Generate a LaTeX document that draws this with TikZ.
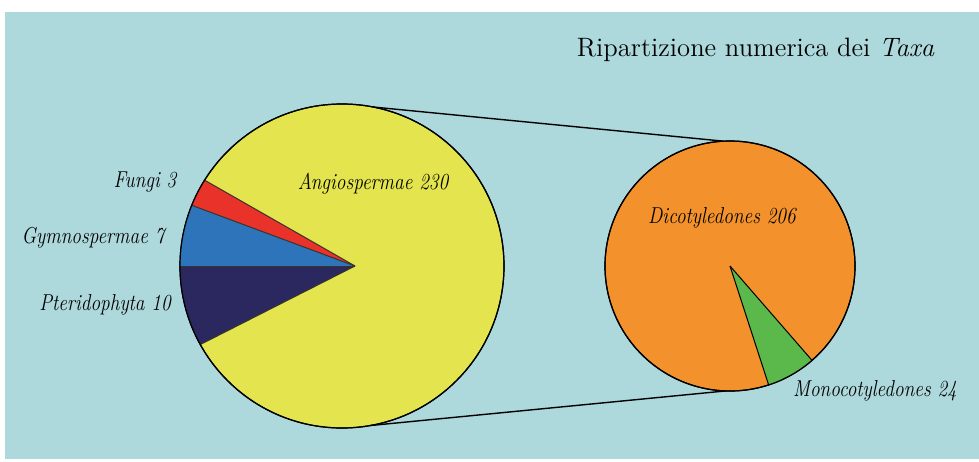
\documentclass[tikz,border=0pt]{standalone}
\usetikzlibrary{calc}
\newcommand{\etich}[1]{\scalebox{0.84}[1]{\itshape #1}}
\begin{document}
\begin{tikzpicture}[x=0.5pt,y=-0.5pt]
\definecolor{sfondo}{RGB}{173,216,220}
\definecolor{giallo}{RGB}{227,228,78}
\definecolor{rosso}{RGB}{232,50,42}
\definecolor{azzurro}{RGB}{46,116,186}
\definecolor{blunotte}{RGB}{43,40,96}
\definecolor{arancio}{RGB}{243,146,44}
\definecolor{verde}{RGB}{91,184,74}
\tikzstyle{pie}=[circle, draw=black, line width=0.6pt, inner sep=0pt, outer sep=0pt]
\tikzstyle{edge}=[draw=black!80!olive, line width=0.5pt]
\tikzstyle{link}=[draw=black, line width=0.7pt]
\tikzstyle{lbl}=[font=\fontsize{11.5}{13}\selectfont, inner sep=0pt]

\useasboundingbox (0,0) rectangle (979,461);
\fill[white] (0,0) rectangle (979,461);
\fill[sfondo] (5,12) rectangle (979,459);

\node[pie, fill=giallo, minimum size=162pt] (angio) at (342,266) {};
\node[pie, fill=arancio, minimum size=125pt] (dico) at (730,266) {};
\coordinate (apexA) at (355,266);

\begin{scope}
\clip (angio.center) circle[radius=81pt];
\fill[rosso] (apexA) -- ($(apexA)!1.4!(angio.148)$) -- ($(apexA)!1.4!(angio.158)$) -- cycle;
\fill[azzurro] (apexA) -- ($(apexA)!1.4!(angio.158)$) -- ($(apexA)!1.4!(angio.180)$) -- cycle;
\fill[blunotte] (apexA) -- ($(apexA)!1.4!(angio.180)$) -- ($(apexA)!1.4!(angio.209)$) -- cycle;
\end{scope}
\draw[edge] (apexA) -- (angio.148);
\draw[edge] (apexA) -- (angio.158);
\draw[edge] (apexA) -- (angio.180);
\draw[edge] (apexA) -- (angio.209);
\draw[pie] (angio.center) circle[radius=81pt];

\begin{scope}
\clip (dico.center) circle[radius=62.5pt];
\fill[verde] (dico.center) -- ($(dico.center)!1.4!(dico.-72.6)$) -- ($(dico.center)!1.4!(dico.-49)$) -- cycle;
\end{scope}
\draw[edge, draw=black] (dico.center) -- (dico.-72.6);
\draw[edge, draw=black] (dico.center) -- (dico.-49);
\draw[pie] (dico.center) circle[radius=62.5pt];

\draw[link] (angio.79) -- (dico.93);
\draw[link] (angio.-80) -- (dico.-92);

\node[font=\fontsize{13.3}{16}\selectfont, inner sep=0pt, anchor=base east] (titolo) at (935,56) {Ripartizione numerica dei \textit{Taxa}};
\node[lbl] (fungi) at (145,182) {\etich{Fungi 3}};
\node[lbl] (gymno) at (93,238) {\etich{Gymnospermae 7}};
\node[lbl] (pteri) at (105,305) {\etich{Pteridophyta 10}};
\node[lbl] (angiol) at (373,184) {\etich{Angiospermae 230}};
\node[lbl] (dicol) at (722,218) {\etich{Dicotyledones 206}};
\node[lbl] (monol) at (875,391) {\etich{Monocotyledones 24}};
\end{tikzpicture}
\end{document}
